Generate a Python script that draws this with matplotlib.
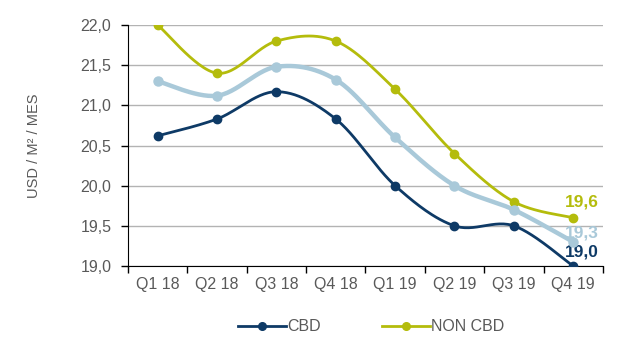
import numpy as np
import matplotlib.pyplot as plt
from matplotlib.lines import Line2D

plt.rcParams["font.family"] = ["Liberation Sans", "DejaVu Sans"]

quarters = ["Q1 18", "Q2 18", "Q3 18", "Q4 18", "Q1 19", "Q2 19", "Q3 19", "Q4 19"]
cbd = [20.62, 20.83, 21.17, 20.83, 20.0, 19.5, 19.5, 19.0]
promedio = [21.3, 21.12, 21.48, 21.32, 20.6, 20.0, 19.7, 19.3]
non_cbd = [22.0, 21.4, 21.8, 21.8, 21.2, 20.4, 19.8, 19.6]

c_cbd = "#0e3a66"
c_prom = "#a9c9d9"
c_non = "#b4bc0c"
gris = "#595959"


def suavizar(x, y, n=30):
    # curva tipo "linea suavizada" de Excel (bezier con tangentes catmull-rom)
    x = np.asarray(x, float)
    y = np.asarray(y, float)
    px = np.concatenate([[x[0]], x, [x[-1]]])
    py = np.concatenate([[y[0]], y, [y[-1]]])
    xs, ys = [], []
    t = np.linspace(0, 1, n)
    for i in range(1, len(px) - 2):
        p0 = np.array([px[i], py[i]])
        p3 = np.array([px[i + 1], py[i + 1]])
        p1 = p0 + (np.array([px[i + 1], py[i + 1]]) - np.array([px[i - 1], py[i - 1]])) / 6
        p2 = p3 - (np.array([px[i + 2], py[i + 2]]) - np.array([px[i], py[i]])) / 6
        b = ((1 - t) ** 3)[:, None] * p0 + (3 * (1 - t) ** 2 * t)[:, None] * p1 \
            + (3 * (1 - t) * t ** 2)[:, None] * p2 + (t ** 3)[:, None] * p3
        xs.extend(b[:, 0])
        ys.extend(b[:, 1])
    return xs, ys


def coma(v):
    return f"{v:.1f}".replace(".", ",")


fig = plt.figure(figsize=(6.4, 3.38), dpi=100)
ax = fig.add_axes([0.2, 0.213, 0.742, 0.713])

x = np.arange(len(quarters))

# etiquetas del ultimo trimestre (debajo de los marcadores)
ax.text(x[-1] + 0.15, non_cbd[-1] + 0.2, coma(non_cbd[-1]), color=c_non,
        fontsize=12.5, fontweight="bold", ha="center", va="center", zorder=2)
ax.text(x[-1] + 0.15, promedio[-1] + 0.11, coma(promedio[-1]), color=c_prom,
        fontsize=12.5, fontweight="bold", ha="center", va="center", zorder=2)
ax.text(x[-1] + 0.15, cbd[-1] + 0.17, coma(cbd[-1]), color=c_cbd,
        fontsize=12.5, fontweight="bold", ha="center", va="center", zorder=2)

for serie, color, lw, ms in [(non_cbd, c_non, 2.0, 6), (promedio, c_prom, 3.2, 6.5), (cbd, c_cbd, 2.0, 6)]:
    sx, sy = suavizar(x, serie)
    ax.plot(sx, sy, color=color, lw=lw, solid_capstyle="round", zorder=3)
    ax.plot(x, serie, "o", color=color, ms=ms, zorder=4)

ax.set_xlim(-0.5, len(quarters) - 0.5)
ax.set_ylim(19, 22)
yt = np.arange(19, 22.01, 0.5)
ax.set_yticks(yt)
ax.set_yticklabels([coma(v) for v in yt])
ax.set_xticks(x)
ax.set_xticklabels(quarters)
ax.set_xticks(np.arange(-0.5, len(quarters)), minor=True)
ax.tick_params(axis="x", which="major", length=0, pad=8, labelsize=11.5, labelcolor=gris)
ax.tick_params(axis="x", which="minor", length=5, width=1, color="black")
ax.tick_params(axis="y", length=5, width=1, color="black", pad=7, labelsize=11.5, labelcolor=gris)

ax.grid(axis="y", color="#b3b3b3", lw=1)
ax.set_axisbelow(True)
for s in ["top", "right"]:
    ax.spines[s].set_visible(False)
ax.spines["left"].set_color("black")
ax.spines["bottom"].set_color("black")

ax.set_ylabel("USD / M² / MES", fontsize=10.5, color=gris, labelpad=28)

handles = [Line2D([], [], color=c_cbd, lw=2, marker="o", ms=5.5),
           Line2D([], [], color=c_non, lw=2, marker="o", ms=5.5)]
fig.legend(handles, ["CBD", "NON CBD"], loc="center", bbox_to_anchor=(0.58, 0.033), ncol=2,
           frameon=False, fontsize=11.5, handlelength=3.0, handletextpad=0.1, columnspacing=3.8,
           labelcolor=gris)

fig.savefig("out.png", dpi=100)
